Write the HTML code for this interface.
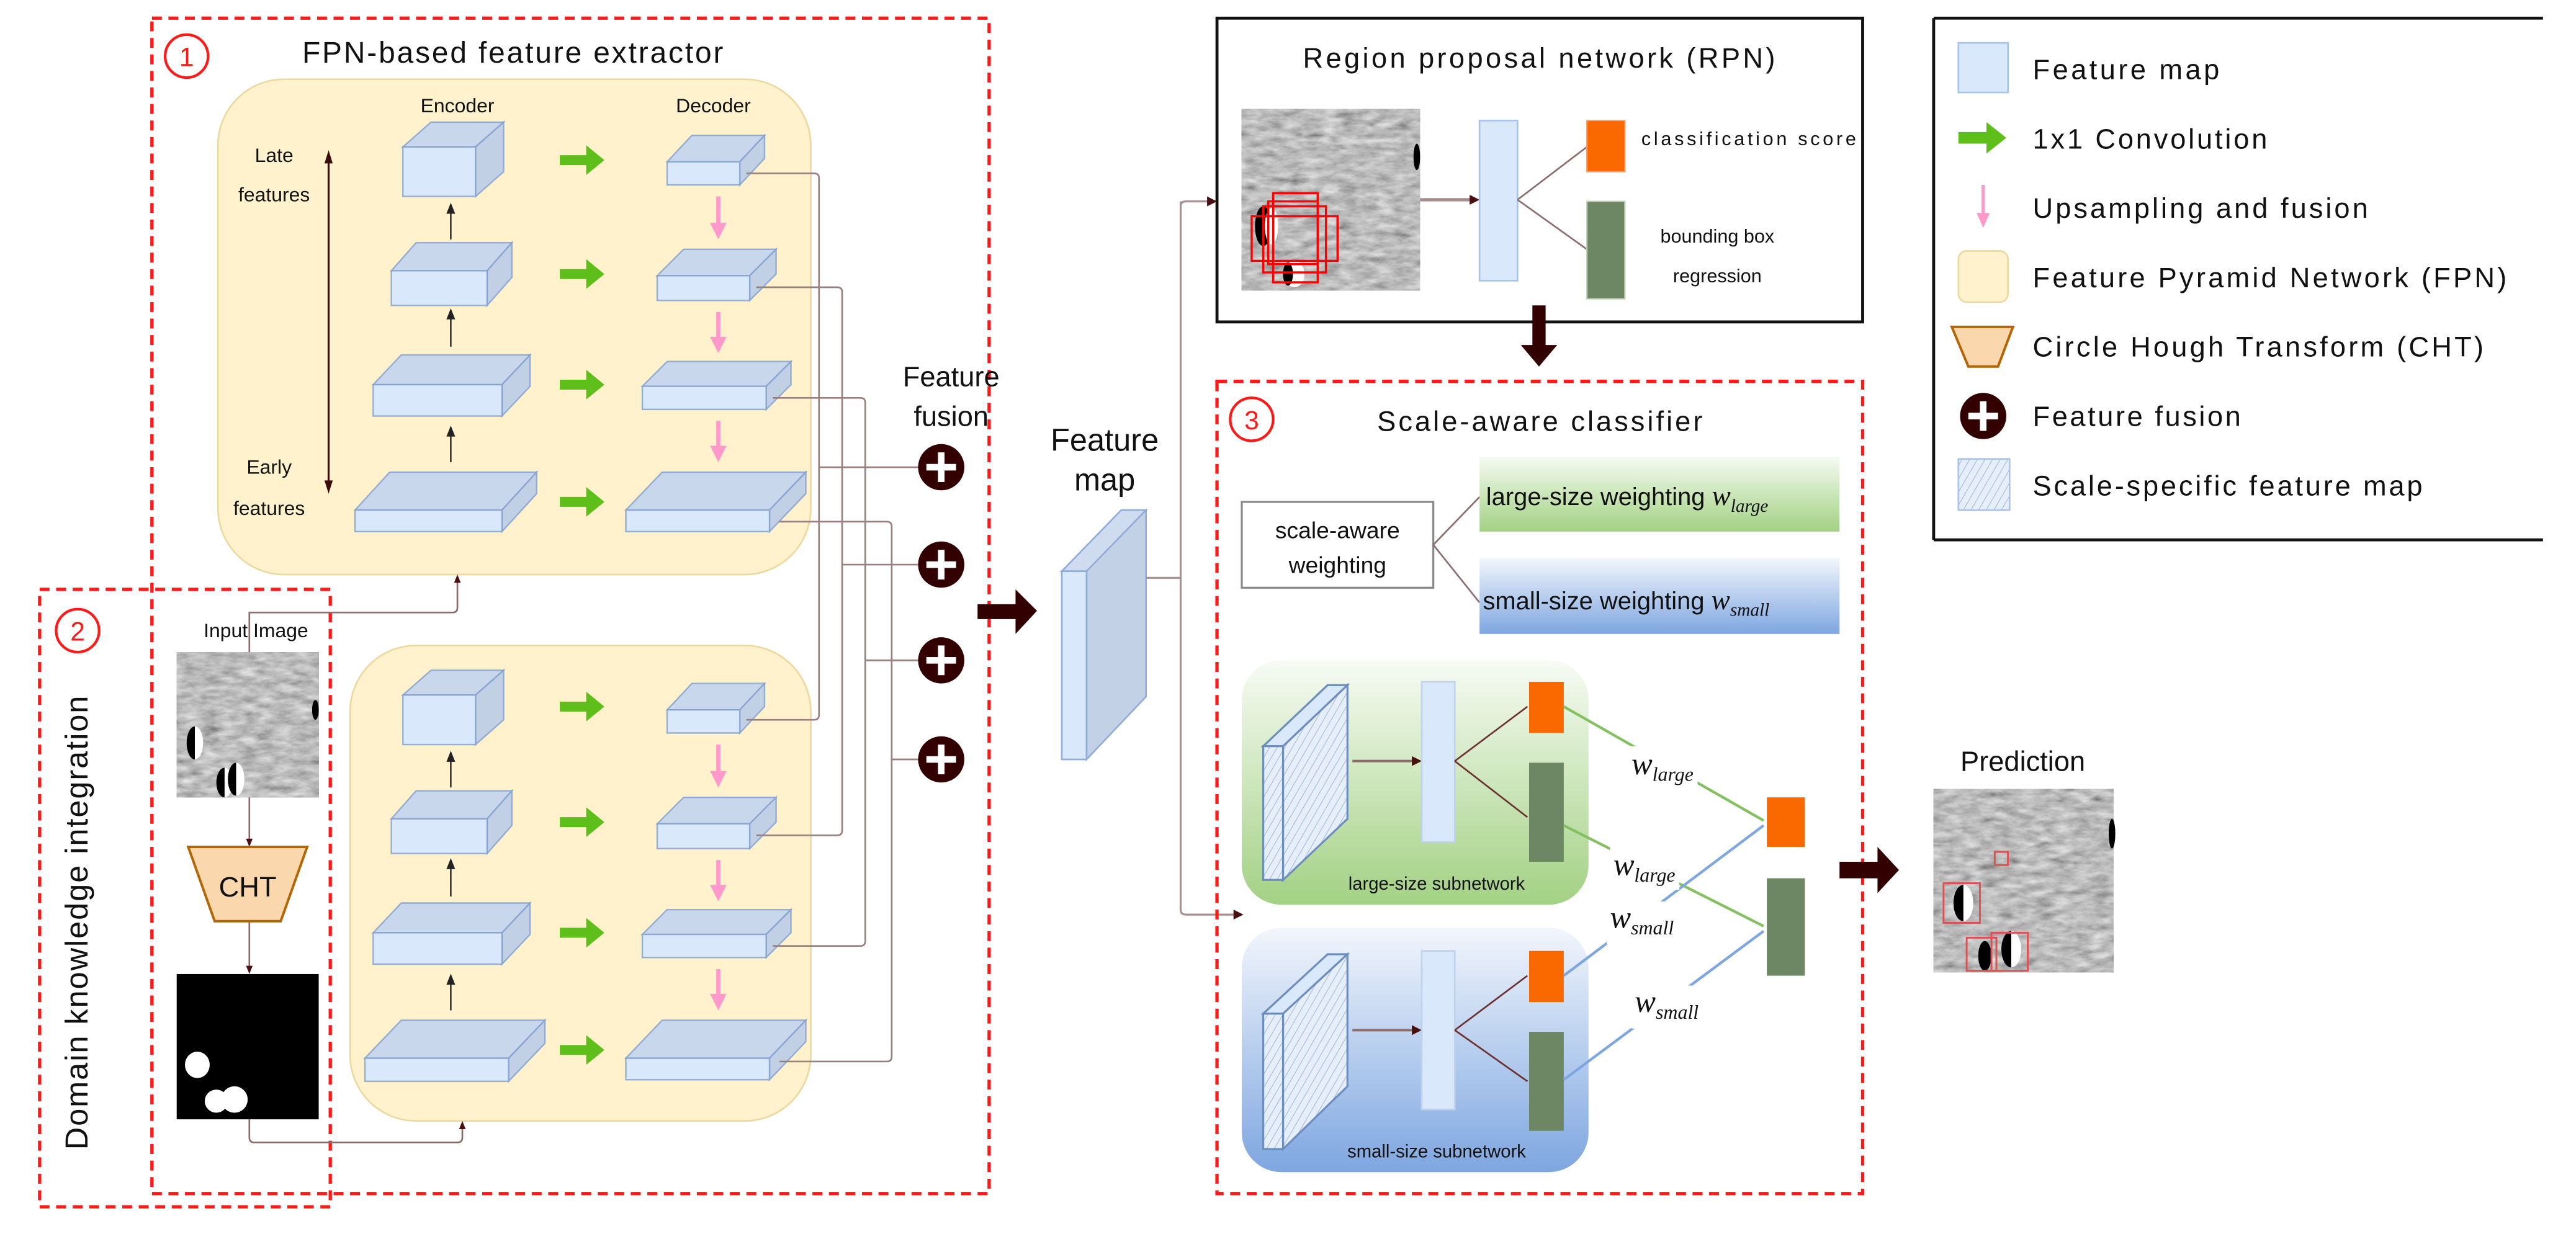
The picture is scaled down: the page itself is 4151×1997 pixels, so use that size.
<!DOCTYPE html>
<html><head><meta charset="utf-8"><style>
html,body{margin:0;padding:0;background:#fff;}
svg{display:block;}
text{font-family:"Liberation Sans",sans-serif;fill:#111;}
.m{font-family:"Liberation Serif",serif;font-style:italic;}
</style></head><body>
<svg width="4151" height="1997" viewBox="0 0 1560 750.5" preserveAspectRatio="none" xmlns="http://www.w3.org/2000/svg">
<defs>
<filter id="noise" x="0" y="0" width="100%" height="100%">
<feTurbulence type="fractalNoise" baseFrequency="0.09 0.25" numOctaves="4" seed="7"/>
<feColorMatrix type="matrix" values="0.4 0.4 0.4 0 -0.1  0.4 0.4 0.4 0 -0.1  0.4 0.4 0.4 0 -0.1  0 0 0 0 1"/>
</filter>
<linearGradient id="gG" x1="0" y1="0" x2="0" y2="1"><stop offset="0" stop-color="#f4faf0"/><stop offset="1" stop-color="#a3d184"/></linearGradient>
<linearGradient id="gB" x1="0" y1="0" x2="0" y2="1"><stop offset="0" stop-color="#f2f6fc"/><stop offset="1" stop-color="#7ea6e0"/></linearGradient>
<linearGradient id="gG2" x1="0" y1="0" x2="0" y2="1"><stop offset="0" stop-color="#f7fbf4"/><stop offset="1" stop-color="#a3d184"/></linearGradient>
<linearGradient id="gB2" x1="0" y1="0" x2="0" y2="1"><stop offset="0" stop-color="#f2f6fc"/><stop offset="1" stop-color="#7ea6e0"/></linearGradient>
<pattern id="hatch" width="4" height="4" patternUnits="userSpaceOnUse" patternTransform="rotate(30)"><rect width="4" height="4" fill="#e6eef9"/><line x1="0" y1="0" x2="0" y2="4" stroke="#8aa6cc" stroke-width="0.6"/></pattern>
</defs>

<rect x="92" y="11" width="507" height="712" fill="none" stroke="#ff1a1a" stroke-width="2" stroke-dasharray="6,4"/>
<rect x="24" y="357" width="176" height="374" fill="none" stroke="#ff1a1a" stroke-width="2" stroke-dasharray="6,4"/>
<circle cx="113" cy="34" r="13" fill="none" stroke="#ff1a1a" stroke-width="1.6"/>
<text x="113" y="40" font-size="16" text-anchor="middle" style="fill:#ff1a1a">1</text>
<circle cx="47" cy="382" r="13" fill="none" stroke="#ff1a1a" stroke-width="1.6"/>
<text x="47" y="388" font-size="16" text-anchor="middle" style="fill:#ff1a1a">2</text>
<text x="183" y="38" font-size="18" textLength="255">FPN-based feature extractor</text>
<text transform="translate(53,559) rotate(-90)" font-size="19" text-anchor="middle" textLength="275">Domain knowledge integration</text>

<rect x="132" y="48" width="359" height="300" rx="40" fill="#fff2cc" stroke="#ecd9a0" stroke-width="1"/>
<rect x="212" y="391" width="279" height="288" rx="40" fill="#fff2cc" stroke="#ecd9a0" stroke-width="1"/>
<text x="277" y="68" font-size="12" text-anchor="middle">Encoder</text>
<text x="432" y="68" font-size="12" text-anchor="middle">Decoder</text>
<text x="166" y="98" font-size="12" text-anchor="middle">Late</text>
<text x="166" y="122" font-size="12" text-anchor="middle">features</text>
<text x="163" y="287" font-size="12" text-anchor="middle">Early</text>
<text x="163" y="312" font-size="12" text-anchor="middle">features</text>
<line x1="199" y1="94" x2="199" y2="296" stroke="#3a0c0c" stroke-width="1.2"/>
<path d="M196.5,99 L199,91 L201.5,99Z M196.5,291 L199,299 L201.5,291Z" fill="#3a0c0c"/>

<g id="cubes" stroke="#7f9fcf" stroke-width="0.9" stroke-opacity="0.8">
<polygon points="244,89 261,74 305,74 288,89" fill="#c9d7ec"/><polygon points="288,89 305,74 305,104 288,119" fill="#c2d0e6"/><rect x="244" y="89" width="44" height="30" fill="#dae8fc"/>
<polygon points="237,164 252,147 310,147 295,164" fill="#c9d7ec"/><polygon points="295,164 310,147 310,168 295,185" fill="#c2d0e6"/><rect x="237" y="164" width="58" height="21" fill="#dae8fc"/>
<polygon points="226,233 243,215 321,215 304,233" fill="#c9d7ec"/><polygon points="304,233 321,215 321,234 304,252" fill="#c2d0e6"/><rect x="226" y="233" width="78" height="19" fill="#dae8fc"/>
<polygon points="215,309 236,286 325,286 304,309" fill="#c9d7ec"/><polygon points="304,309 325,286 325,299 304,322" fill="#c2d0e6"/><rect x="215" y="309" width="89" height="13" fill="#dae8fc"/>
<polygon points="404,98 419,82 463,82 448,98" fill="#c9d7ec"/><polygon points="448,98 463,82 463,96 448,112" fill="#c2d0e6"/><rect x="404" y="98" width="44" height="14" fill="#dae8fc"/>
<polygon points="398,167 414,151 470,151 454,167" fill="#c9d7ec"/><polygon points="454,167 470,151 470,166 454,182" fill="#c2d0e6"/><rect x="398" y="167" width="56" height="15" fill="#dae8fc"/>
<polygon points="389,234 404,219 479,219 464,234" fill="#c9d7ec"/><polygon points="464,234 479,219 479,233 464,248" fill="#c2d0e6"/><rect x="389" y="234" width="75" height="14" fill="#dae8fc"/>
<polygon points="379,309 401,286 488,286 466,309" fill="#c9d7ec"/><polygon points="466,309 488,286 488,299 466,322" fill="#c2d0e6"/><rect x="379" y="309" width="87" height="13" fill="#dae8fc"/>
<polygon points="244,421 261,406 305,406 288,421" fill="#c9d7ec"/><polygon points="288,421 305,406 305,436 288,451" fill="#c2d0e6"/><rect x="244" y="421" width="44" height="30" fill="#dae8fc"/>
<polygon points="237,496 252,479 310,479 295,496" fill="#c9d7ec"/><polygon points="295,496 310,479 310,500 295,517" fill="#c2d0e6"/><rect x="237" y="496" width="58" height="21" fill="#dae8fc"/>
<polygon points="226,565 243,547 321,547 304,565" fill="#c9d7ec"/><polygon points="304,565 321,547 321,566 304,584" fill="#c2d0e6"/><rect x="226" y="565" width="78" height="19" fill="#dae8fc"/>
<polygon points="221,641 243,618 330,618 308,641" fill="#c9d7ec"/><polygon points="308,641 330,618 330,632 308,655" fill="#c2d0e6"/><rect x="221" y="641" width="87" height="14" fill="#dae8fc"/>
<polygon points="404,430 419,414 463,414 448,430" fill="#c9d7ec"/><polygon points="448,430 463,414 463,428 448,444" fill="#c2d0e6"/><rect x="404" y="430" width="44" height="14" fill="#dae8fc"/>
<polygon points="398,499 414,483 470,483 454,499" fill="#c9d7ec"/><polygon points="454,499 470,483 470,498 454,514" fill="#c2d0e6"/><rect x="398" y="499" width="56" height="15" fill="#dae8fc"/>
<polygon points="389,566 404,551 479,551 464,566" fill="#c9d7ec"/><polygon points="464,566 479,551 479,565 464,580" fill="#c2d0e6"/><rect x="389" y="566" width="75" height="14" fill="#dae8fc"/>
<polygon points="379,641 401,618 488,618 466,641" fill="#c9d7ec"/><polygon points="466,641 488,618 488,631 466,654" fill="#c2d0e6"/><rect x="379" y="641" width="87" height="13" fill="#dae8fc"/>
</g>

<g fill="#5fbf1a">
<path d="M339,94 h16 v-6 l11,9 l-11,9 v-6 h-16z"/>
<path d="M339,163 h16 v-6 l11,9 l-11,9 v-6 h-16z"/>
<path d="M339,230 h16 v-6 l11,9 l-11,9 v-6 h-16z"/>
<path d="M339,301 h16 v-6 l11,9 l-11,9 v-6 h-16z"/>
<path d="M339,425 h16 v-6 l11,9 l-11,9 v-6 h-16z"/>
<path d="M339,495 h16 v-6 l11,9 l-11,9 v-6 h-16z"/>
<path d="M339,562 h16 v-6 l11,9 l-11,9 v-6 h-16z"/>
<path d="M339,633 h16 v-6 l11,9 l-11,9 v-6 h-16z"/>
</g>
<g stroke="#ff99cc" stroke-width="2.5" fill="#ff99cc">
<line x1="435" y1="119" x2="435" y2="137"/><path d="M430,135 L435,145 L440,135Z" stroke="none"/>
<line x1="435" y1="189" x2="435" y2="206"/><path d="M430,204 L435,214 L440,204Z" stroke="none"/>
<line x1="435" y1="255" x2="435" y2="272"/><path d="M430,270 L435,280 L440,270Z" stroke="none"/>
<line x1="435" y1="451" x2="435" y2="469"/><path d="M430,467 L435,477 L440,467Z" stroke="none"/>
<line x1="435" y1="521" x2="435" y2="538"/><path d="M430,536 L435,546 L440,536Z" stroke="none"/>
<line x1="435" y1="587" x2="435" y2="604"/><path d="M430,602 L435,612 L440,602Z" stroke="none"/>
</g>
<g stroke="#222" stroke-width="0.9" fill="#222">
<line x1="273" y1="145" x2="273" y2="127"/><path d="M271,129 L273,124 L275,129Z"/>
<line x1="273" y1="210" x2="273" y2="191"/><path d="M271,193 L273,188 L275,193Z"/>
<line x1="273" y1="280" x2="273" y2="262"/><path d="M271,264 L273,259 L275,264Z"/>
<line x1="273" y1="477" x2="273" y2="459"/><path d="M271,461 L273,456 L275,461Z"/>
<line x1="273" y1="543" x2="273" y2="524"/><path d="M271,526 L273,521 L275,526Z"/>
<line x1="273" y1="612" x2="273" y2="594"/><path d="M271,596 L273,591 L275,596Z"/>
</g>

<g stroke="#9a7f7f" stroke-width="1" fill="none">
<path d="M452,105 H493 q3,0 3,3 V283 M452,436 H493 q3,0 3,-3 V283 M496,283 H556"/>
<path d="M458,174 H507 q3,0 3,3 V342 M458,506 H507 q3,0 3,-3 V342 M510,342 H556"/>
<path d="M468,241 H521 q3,0 3,3 V400 M468,573 H521 q3,0 3,-3 V400 M524,400 H556"/>
<path d="M472,316 H537 q3,0 3,3 V460 M472,643 H537 q3,0 3,-3 V460 M540,460 H556"/>
</g>
<text x="576" y="234" font-size="17" text-anchor="middle">Feature</text>
<text x="576" y="258" font-size="17" text-anchor="middle">fusion</text>
<g>
<circle cx="570" cy="283" r="14" fill="#330000"/><path d="M561,283 H579 M570,274 V292" stroke="#fff" stroke-width="4"/>
<circle cx="570" cy="342" r="14" fill="#330000"/><path d="M561,342 H579 M570,333 V351" stroke="#fff" stroke-width="4"/>
<circle cx="570" cy="400" r="14" fill="#330000"/><path d="M561,400 H579 M570,391 V409" stroke="#fff" stroke-width="4"/>
<circle cx="570" cy="460" r="14" fill="#330000"/><path d="M561,460 H579 M570,451 V469" stroke="#fff" stroke-width="4"/>
</g>

<text x="155" y="386" font-size="12" text-anchor="middle">Input Image</text>
<rect x="107" y="395" width="86" height="88" fill="#888" filter="url(#noise)"/>
<ellipse cx="118" cy="450" rx="5" ry="10" fill="#fff"/><path d="M118,440 a5,10 0 0 0 0,20z" fill="#000"/>
<ellipse cx="136" cy="474" rx="5" ry="9" fill="#fff"/><path d="M136,465 a5,9 0 0 0 0,18z" fill="#000"/>
<ellipse cx="143" cy="472" rx="5" ry="10" fill="#fff"/><path d="M143,462 a5,10 0 0 0 0,20z" fill="#000"/>
<ellipse cx="191" cy="430" rx="2" ry="6" fill="#000"/>
<g stroke="#8c6d6d" stroke-width="1" fill="none">
<path d="M151,395 V371 H274 q3,0 3,-3 V352"/>
<path d="M151,483 V510 M151,558 V587"/>
<path d="M151,678 V689 q0,3 3,3 H277 q3,0 3,-3 V682"/>
</g>
<path d="M149,508 L151,513 L153,508Z M149,585 L151,590 L153,585Z M275,353 L277,348 L279,353Z M278,684 L280,679 L282,684Z" fill="#4a1010"/>
<polygon points="114,513 186,513 170,558 130,558" fill="#fad7ac" stroke="#b46504" stroke-width="1.5"/>
<text x="150" y="543" font-size="17" text-anchor="middle">CHT</text>
<rect x="107" y="590" width="86" height="88" fill="#000"/>
<ellipse cx="119.5" cy="645" rx="7.5" ry="8" fill="#fff"/>
<circle cx="131" cy="667" r="7" fill="#fff"/><circle cx="142" cy="666" r="8" fill="#fff"/>

<path d="M592,366 H615 V357 L628,370 L615,384 V375 H592Z" fill="#330000"/>

<text x="669" y="273" font-size="19" text-anchor="middle">Feature</text>
<text x="669" y="297" font-size="19" text-anchor="middle">map</text>
<g stroke="#8fadd8" stroke-width="1">
<polygon points="643,346 694,309 694,422 658,460 658,346" fill="#c3d1e6"/>
<polygon points="643,346 658,346 694,309 679,309" fill="#cfdcef"/>
<rect x="643" y="346" width="15" height="114" fill="#dae8fc"/>
</g>
<g stroke="#a89090" stroke-width="1.2" fill="none">
<path d="M694,350 H715 M715,122 V551 M715,125 q0,-3 3,-3 H734 M715,551 q0,3 3,3 H750"/>
</g>
<path d="M731,119 L737,122 L731,125Z M747,551 L753,554 L747,557Z" fill="#4a1010"/>

<rect x="737" y="11" width="391" height="184" fill="#fff" stroke="#111" stroke-width="1.8"/>
<text x="789" y="41" font-size="17" textLength="286">Region proposal network (RPN)</text>
<rect x="752" y="66" width="108" height="110" fill="#888" filter="url(#noise)"/>
<ellipse cx="765" cy="137" rx="5" ry="12" fill="#000"/><ellipse cx="770" cy="137" rx="4" ry="11" fill="#fff"/>
<ellipse cx="784" cy="166" rx="6" ry="8" fill="#fff"/><ellipse cx="780" cy="166" rx="3" ry="7" fill="#000"/>
<ellipse cx="858" cy="95" rx="2" ry="8" fill="#000"/>
<g fill="none" stroke="#ff0000" stroke-width="1.3">
<rect x="771" y="117" width="27" height="54"/><rect x="758" y="131" width="52" height="27"/><rect x="765" y="125" width="38" height="40"/><rect x="768" y="122" width="30" height="38"/>
</g>
<path d="M860,121 H891" stroke="#a89090" stroke-width="2"/><path d="M890,118 L896,121 L890,124Z" fill="#4a1010"/>
<rect x="896" y="73" width="23" height="97" fill="#dae8fc" stroke="#a9c4eb" stroke-width="1"/>
<path d="M919,121 L961,89 M919,121 L961,151" stroke="#8c6d6d" stroke-width="1"/>
<rect x="961" y="73" width="23" height="31" fill="#fa6800" stroke="#f0a070" stroke-width="0.8"/>
<rect x="961" y="122" width="23" height="59" fill="#6d8764" stroke="#c0d0b8" stroke-width="0.8"/>
<text x="994" y="88" font-size="11.5" textLength="130">classification score</text>
<text x="1040" y="147" font-size="11.5" text-anchor="middle">bounding box</text>
<text x="1040" y="171" font-size="11.5" text-anchor="middle">regression</text>
<path d="M928,185 V209 H921 L932,222 L943,209 H936 V185Z" fill="#330000"/>

<path d="M1171,11 H1540 M1171,327 H1540 M1171,11 V327" stroke="#111" stroke-width="1.8" fill="none"/>
<rect x="1186" y="26" width="30" height="30" fill="#dae8fc" stroke="#a9c4eb"/>
<text x="1231" y="48" font-size="17" textLength="113">Feature map</text>
<path d="M1186,80 h17 v-6 l12,9.5 l-12,9.5 v-6 h-17z" fill="#5fbf1a"/>
<text x="1231" y="90" font-size="17" textLength="142">1x1 Convolution</text>
<line x1="1201" y1="112" x2="1201" y2="131" stroke="#ff99cc" stroke-width="2"/><path d="M1197,129 L1201,138 L1205,129Z" fill="#ff99cc"/>
<text x="1231" y="132" font-size="17" textLength="203">Upsampling and fusion</text>
<rect x="1186" y="152" width="30" height="31" rx="5" fill="#fff2cc" stroke="#ecd9a0"/>
<text x="1231" y="174" font-size="17" textLength="287">Feature Pyramid Network (FPN)</text>
<polygon points="1182,198 1219,198 1210,222 1192,222" fill="#fad7ac" stroke="#b46504" stroke-width="1.5"/>
<text x="1231" y="216" font-size="17" textLength="273">Circle Hough Transform (CHT)</text>
<circle cx="1201" cy="252" r="14" fill="#330000"/><path d="M1192,252 H1210 M1201,243 V261" stroke="#fff" stroke-width="4"/>
<text x="1231" y="258" font-size="17" textLength="126">Feature fusion</text>
<rect x="1186" y="278" width="31" height="31" fill="url(#hatch)" stroke="#a9c4eb"/>
<text x="1231" y="300" font-size="17" textLength="236">Scale-specific feature map</text>

<rect x="737" y="231" width="391" height="492" fill="none" stroke="#ff1a1a" stroke-width="2" stroke-dasharray="6,4"/>
<circle cx="758" cy="254" r="13" fill="none" stroke="#ff1a1a" stroke-width="1.6"/>
<text x="758" y="260" font-size="16" text-anchor="middle" style="fill:#ff1a1a">3</text>
<text x="834" y="261" font-size="17" textLength="197">Scale-aware classifier</text>
<rect x="752" y="304" width="116" height="52" fill="#fff" stroke="#888" stroke-width="1.2"/>
<text x="810" y="326" font-size="14" text-anchor="middle">scale-aware</text>
<text x="810" y="347" font-size="14" text-anchor="middle">weighting</text>
<path d="M868,330 L896,301 M868,330 L896,365" stroke="#8c6d6d" stroke-width="1"/>
<rect x="896" y="277" width="218" height="45" fill="url(#gG)"/>
<text x="900" y="306" font-size="15">large-size weighting <tspan class="m" font-size="17">w</tspan><tspan class="m" font-size="11" dy="4">large</tspan></text>
<rect x="896" y="338" width="218" height="46" fill="url(#gB)"/>
<text x="898" y="369" font-size="15">small-size weighting <tspan class="m" font-size="17">w</tspan><tspan class="m" font-size="11" dy="4">small</tspan></text>

<rect x="752" y="400" width="210" height="148" rx="24" fill="url(#gG2)"/>
<rect x="752" y="562" width="210" height="148" rx="24" fill="url(#gB2)"/>
<g stroke="#6c8ebf" stroke-width="1.2">
<polygon points="765,452 777,452 816,415 804,415" fill="#dae8fc"/>
<polygon points="777,452 816,415 816,496 777,533" fill="url(#hatch)"/>
<rect x="765" y="452" width="12" height="81" fill="url(#hatch)"/>
<polygon points="765,614 777,614 816,578 804,578" fill="#dae8fc"/>
<polygon points="777,614 816,578 816,658 777,696" fill="url(#hatch)"/>
<rect x="765" y="614" width="12" height="82" fill="url(#hatch)"/>
</g>
<path d="M819,461 H856 M819,624 H856" stroke="#8c6d6d" stroke-width="1.5"/>
<path d="M855,458 L861,461 L855,464Z M855,621 L861,624 L855,627Z" fill="#4a1010"/>
<rect x="861" y="413" width="20" height="97" fill="#dae8fc" stroke="#c0d2ec"/>
<rect x="861" y="576" width="20" height="96" fill="#dae8fc" stroke="#c0d2ec"/>
<path d="M881,461 L925,428 M881,461 L925,495 M881,624 L925,591 M881,624 L925,655" stroke="#6b3030" stroke-width="1"/>
<rect x="926" y="413" width="21" height="31" fill="#fa6800"/>
<rect x="926" y="462" width="21" height="60" fill="#6d8764"/>
<rect x="926" y="576" width="21" height="31" fill="#fa6800"/>
<rect x="926" y="625" width="21" height="60" fill="#6d8764"/>
<text x="870" y="539" font-size="11" text-anchor="middle">large-size subnetwork</text>
<text x="870" y="701" font-size="11" text-anchor="middle">small-size subnetwork</text>

<g stroke-width="1.6" fill="none">
<path d="M947,428 L1068,497" stroke="#82c060"/>
<path d="M947,500 L1068,561" stroke="#82c060"/>
<path d="M947,591 L1068,500" stroke="#7ea6e0"/>
<path d="M947,654 L1068,564" stroke="#7ea6e0"/>
</g>
<rect x="1070" y="483" width="23" height="30" fill="#fa6800"/>
<rect x="1070" y="532" width="23" height="59" fill="#6d8764"/>
<g>
<rect x="986" y="452" width="42" height="26" fill="#fff"/>
<text x="988" y="469"><tspan class="m" font-size="19">w</tspan><tspan class="m" font-size="12" dy="4">large</tspan></text>
<rect x="975" y="513" width="42" height="26" fill="#fff"/>
<text x="977" y="530"><tspan class="m" font-size="19">w</tspan><tspan class="m" font-size="12" dy="4">large</tspan></text>
<rect x="973" y="546" width="44" height="26" fill="#fff"/>
<text x="975" y="562"><tspan class="m" font-size="19">w</tspan><tspan class="m" font-size="12" dy="4">small</tspan></text>
<rect x="988" y="597" width="46" height="26" fill="#fff"/>
<text x="990" y="613"><tspan class="m" font-size="19">w</tspan><tspan class="m" font-size="12" dy="4">small</tspan></text>
</g>

<path d="M1114,522 H1137 V513 L1150,527 L1137,541 V532 H1114Z" fill="#330000"/>
<text x="1225" y="467" font-size="17" text-anchor="middle">Prediction</text>
<rect x="1171" y="478" width="109" height="111" fill="#888" filter="url(#noise)"/>
<ellipse cx="1189" cy="547" rx="6" ry="11" fill="#fff"/><path d="M1189,536 a6,11 0 0 0 0,22z" fill="#000"/>
<ellipse cx="1202" cy="579" rx="4" ry="9" fill="#000"/><ellipse cx="1218" cy="575" rx="6" ry="11" fill="#fff"/><path d="M1218,564 a6,11 0 0 0 0,22z" fill="#000"/>
<ellipse cx="1279" cy="505" rx="2" ry="9" fill="#000"/>
<g fill="none" stroke="#e05050" stroke-width="1.1">
<rect x="1177" y="535" width="22" height="24"/><rect x="1191" y="568" width="18" height="20"/><rect x="1206" y="565" width="22" height="23"/><rect x="1208" y="516" width="8" height="8"/>
</g>
</svg>
</body></html>
